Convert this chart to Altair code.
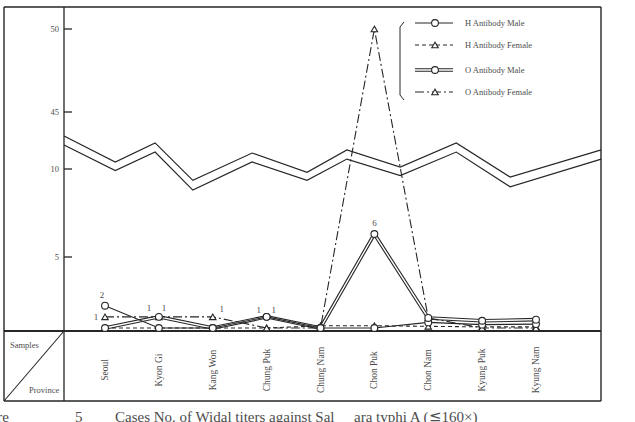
import altair as alt
import pandas as pd

# Widal titre case counts per province (<=160x), four antibody/sex groups
provinces = ["Seoul", "Kyon Gi", "Kang Won", "Chung Puk", "Chung Nam",
             "Chon Puk", "Chon Nam", "Kyung Puk", "Kyung Nam"]
h_male = [2, 0, 0, 1, 0, 0, 0.5, 0.3, 0.35]
h_female = [0, 0, 0, 0, 0.2, 0.2, 0.15, 0.1, 0.1]
o_male = [0, 1, 0, 1, 0, 6, 0.9, 0.65, 0.75]
o_female = [1, 1, 1, 0, 0, 50, 0.9, 0, 0]

series_names = ["H Antibody Male", "H Antibody Female",
                "O Antibody Male", "O Antibody Female"]

# value labels written beside the points: province index and value
label_province = [0, 0, 1, 1, 2, 3, 3, 5]
label_value = [2, 1, 1, 1, 1, 1, 1, 6]

# zig-zag axis-break band drawn across the plot (x in province index units)
break_x = [-0.76, 0.19, 0.93, 1.63, 2.73, 3.75, 4.49, 5.48, 6.52, 7.52, 9.21]
break_upper = [30.3, 14.3, 26.0, 9.3, 19.8, 9.8, 21.7, 11.2, 26.0, 9.5, 21.7]
break_lower = [24.7, 9.9, 20.4, 8.7, 14.3, 9.3, 16.1, 9.6, 20.4, 8.9, 16.1]

y_ticks = [5, 10, 45, 50]

INK = "#262626"
TEXT = "#4d4d4d"
SERIF = "Liberation Serif"

# pixel offsets of each value label from its point
label_shift = [(-3, -11), (-9, 0), (-10, -9), (5, -9), (9, -8), (-8, -7), (7, -7), (0, -11)]

idx = list(range(len(provinces)))


def table(values):
    return pd.DataFrame({"i": idx, "v": values, "p": provinces})


one_row = pd.DataFrame({"a": [0]})

x_scale = alt.Scale(domain=[0, 8], range=[41, 472], nice=False, zero=False)
# broken value axis: piecewise-linear scale (0-10 stretched, 10-45 compressed)
y_scale = alt.Scale(domain=[0, 2, 5, 6, 10, 45, 50],
                    range=[321, 298.7, 250, 227, 162, 105, 22],
                    nice=False, zero=False)

X = alt.X("i:Q", scale=x_scale, axis=None)
Y = alt.Y("v:Q", scale=y_scale, axis=None)

layers = []


def rule(x1, y1, x2, y2, width=1.4, **kw):
    return alt.Chart(one_row).mark_rule(color=INK, strokeWidth=width, **kw).encode(
        x=alt.value(x1), y=alt.value(y1), x2=alt.value(x2), y2=alt.value(y2))


# outer frame, value axis line, baseline and province table
layers += [
    rule(-60, 0, 537, 0),
    rule(-60, 394, 537, 394),
    rule(-60, 0, -60, 394),
    rule(537, 0, 537, 394),
    rule(0, 0, 0, 394, width=1.3),
    rule(-60, 324, 537, 324, width=1.8),
    rule(-60, 394, 0, 324, width=1.1),
]

# axis-break double zig-zag
brk = pd.DataFrame({"i": break_x, "up": break_upper, "lo": break_lower})
for col in ["up", "lo"]:
    layers.append(alt.Chart(brk).mark_line(color=INK, strokeWidth=1.2).encode(
        x=X, y=alt.Y(f"{col}:Q", scale=y_scale, axis=None)))

# inward ticks and tick labels on the value axis
ticks = pd.DataFrame({"v": y_ticks})
layers.append(alt.Chart(ticks).mark_rule(color=INK, strokeWidth=1.3).encode(
    y=Y, x=alt.value(0), x2=alt.value(8)))
layers.append(alt.Chart(ticks).mark_text(
    align="right", baseline="middle", font=SERIF, fontSize=8.5, color=TEXT).encode(
    y=Y, x=alt.value(-5), text=alt.Text("v:Q")))

# O Antibody Male: double line (dark stroke with a white core)
layers.append(alt.Chart(table(o_male)).mark_line(color=INK, strokeWidth=3.6).encode(x=X, y=Y))
layers.append(alt.Chart(table(o_male)).mark_line(color="white", strokeWidth=1.4).encode(x=X, y=Y))
# H Antibody Male: solid
layers.append(alt.Chart(table(h_male)).mark_line(color=INK, strokeWidth=1.1).encode(x=X, y=Y))
# H Antibody Female: dashed
layers.append(alt.Chart(table(h_female)).mark_line(
    color=INK, strokeWidth=1.1, strokeDash=[4, 3]).encode(x=X, y=Y))
# O Antibody Female: dash-dot
layers.append(alt.Chart(table(o_female)).mark_line(
    color=INK, strokeWidth=1.1, strokeDash=[9, 3, 2, 3]).encode(x=X, y=Y))

circle = dict(shape="circle", filled=True, fill="white", stroke=INK,
              strokeWidth=1.1, size=46, opacity=1)
triangle = dict(shape="triangle-up", filled=True, fill="white", stroke=INK,
                strokeWidth=1.1, size=42, opacity=1)
for vals, style in [(h_female, triangle), (o_female, triangle),
                    (h_male, circle), (o_male, circle)]:
    layers.append(alt.Chart(table(vals)).mark_point(**style).encode(x=X, y=Y))

# value labels
for p, val, (dx, dy) in zip(label_province, label_value, label_shift):
    layers.append(alt.Chart(pd.DataFrame({"i": [p], "v": [val]})).mark_text(
        dx=dx, dy=dy, font=SERIF, fontSize=9, color=TEXT).encode(
        x=X, y=Y, text=alt.Text("v:Q")))

# province names in the table row
layers.append(alt.Chart(table(idx)).mark_text(
    angle=270, align="center", baseline="middle", font=SERIF, fontSize=9.5,
    color=TEXT).encode(x=X, y=alt.value(363), text="p:N"))


def label(txt, x, y, size=8.5, align="left", color=TEXT, baseline="middle"):
    return alt.Chart(one_row).mark_text(
        text=txt, align=align, baseline=baseline, font=SERIF, fontSize=size,
        color=color).encode(x=alt.value(x), y=alt.value(y))


layers += [label("Samples", -54, 338), label("Province", -35, 383)]

# legend
legend_rows = [16, 38, 63, 85]
lx1, lx2, lm, lt = 351, 389, 371, 401
for name, ry in zip(series_names, legend_rows):
    if name == "O Antibody Male":
        layers.append(rule(lx1, ry, lx2, ry, width=3.6))
        layers.append(alt.Chart(one_row).mark_rule(color="white", strokeWidth=1.4).encode(
            x=alt.value(lx1), x2=alt.value(lx2), y=alt.value(ry), y2=alt.value(ry)))
    elif name == "H Antibody Male":
        layers.append(rule(lx1, ry, lx2, ry, width=1.1))
    elif name == "H Antibody Female":
        layers.append(rule(lx1, ry, lx2, ry, width=1.1, strokeDash=[4, 3]))
    else:
        layers.append(rule(lx1, ry, lx2, ry, width=1.1, strokeDash=[9, 3, 2, 3]))
    style = circle if "Female" not in name else triangle
    layers.append(alt.Chart(one_row).mark_point(**style).encode(
        x=alt.value(lm), y=alt.value(ry)))
    layers.append(label(name, lt, ry, size=8.5))

# legend bracket
layers += [rule(336, 20, 336, 88, width=1.0),
           rule(336, 20, 340, 15, width=1.0),
           rule(336, 88, 340, 93, width=1.0)]

# caption below the figure (its lower edge falls past the page)
cap = dict(size=15, baseline="alphabetic")
layers.append(label("Cases No. of Widal titers against Sal", 51, 415, **cap))
layers.append(label("ara typhi A (\u2266160\u00d7)", 290, 415, **cap))
layers.append(label("Figure", -55, 415, align="right", **cap))
layers.append(label("5", 11, 415, **cap))

chart = alt.layer(*layers).properties(
    width=537, height=324,
    autosize=alt.AutoSizeParams(type="none"),
    padding={"left": 64, "top": 7, "right": 34, "bottom": 91},
    background="white",
).configure_view(stroke=None)

chart.save("out.html", embed_options={"renderer": "svg", "actions": False})
